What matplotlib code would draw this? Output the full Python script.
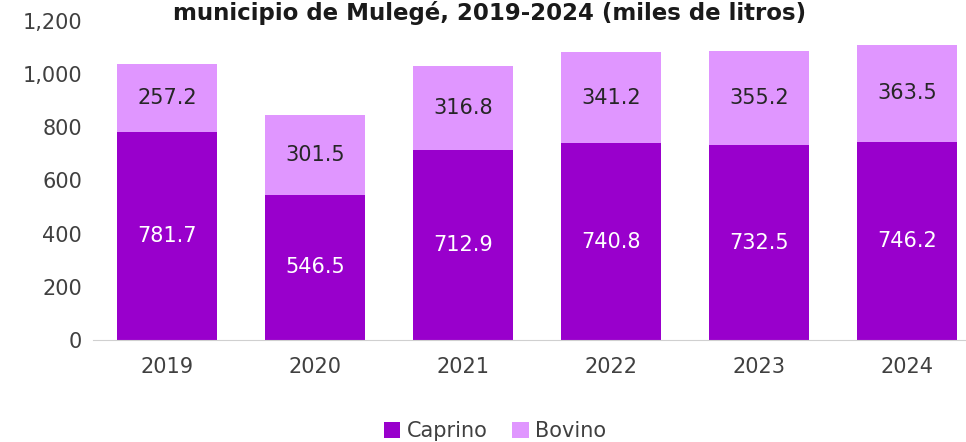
import numpy as np
import matplotlib
matplotlib.use("Agg")
import matplotlib.pyplot as plt
from matplotlib.ticker import FuncFormatter

years = ["2019", "2020", "2021", "2022", "2023", "2024"]
caprino = [781.7, 546.5, 712.9, 740.8, 732.5, 746.2]
bovino = [257.2, 301.5, 316.8, 341.2, 355.2, 363.5]

C_CAP = "#9900CC"
C_BOV = "#E096FF"
TXT = "#404040"

plt.rcParams["font.family"] = ["DejaVu Sans"]

fig = plt.figure(figsize=(9.66, 4.42), dpi=100)
ax = fig.add_axes([93 / 966, 1 - 340 / 442, 888 / 966, 319 / 442])

x = np.arange(len(years))
w = 0.675
b1 = ax.bar(x, caprino, w, color=C_CAP, label="Caprino")
b2 = ax.bar(x, bovino, w, bottom=caprino, color=C_BOV, label="Bovino")

for i in range(len(years)):
    ax.text(x[i], caprino[i] / 2, f"{caprino[i]:.1f}", ha="center", va="center",
            color="white", fontsize=15)
    ax.text(x[i], caprino[i] + bovino[i] / 2, f"{bovino[i]:.1f}", ha="center",
            va="center", color="#262626", fontsize=15)

ax.set_xlim(-0.5, 5.5)
ax.set_ylim(0, 1200)
ax.set_yticks(range(0, 1201, 200))
ax.yaxis.set_major_formatter(FuncFormatter(lambda v, p: f"{int(v):,}"))
ax.set_xticks(x)
ax.set_xticklabels(years)
ax.tick_params(axis="both", length=0, labelsize=15, colors=TXT)
ax.tick_params(axis="x", pad=12)
ax.tick_params(axis="y", pad=8)
for s in ["top", "right", "left"]:
    ax.spines[s].set_visible(False)
ax.spines["bottom"].set_color("#d0d0d0")

fig.text(490 / 966, 1 - 1 / 442, "municipio de Mulegé, 2019-2024 (miles de litros)",
         ha="center", va="top", fontsize=16.5, fontweight="bold", color="#1a1a1a")

fig.legend(handles=[b1, b2], loc="center", bbox_to_anchor=(495 / 966, 1 - 431 / 442),
           ncol=2, frameon=False, fontsize=15, handlelength=0.8, handleheight=0.8,
           handletextpad=0.3, columnspacing=1.2, labelcolor=TXT)

fig.savefig("out.png", dpi=100)
